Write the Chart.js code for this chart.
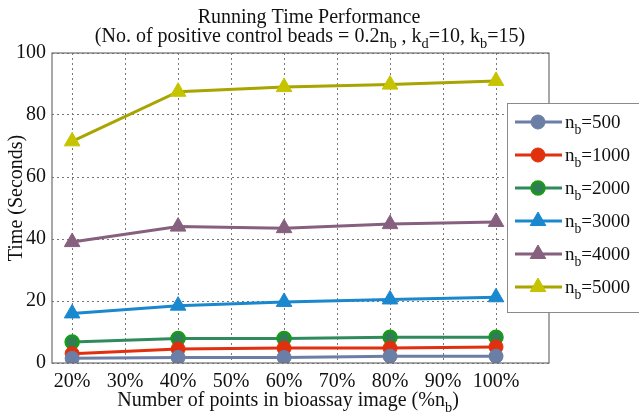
<!DOCTYPE html>
<html>
<head>
<meta charset="utf-8">
<script src="https://cdn.jsdelivr.net/npm/chart.js@4"></script>
<style>
  html, body { margin: 0; padding: 0; background: #fff; }
  #wrap { width: 639px; height: 414px; position: relative; }
</style>
</head>
<body>
<div id="wrap"><canvas id="chart" width="639" height="414"></canvas></div>
<script>
// data
const pointsPct = [20, 40, 60, 80, 100];
const xTicks = [20, 30, 40, 50, 60, 70, 80, 90, 100];
const yTicks = [0, 20, 40, 60, 80, 100];
const seriesNames = ["500", "1000", "2000", "3000", "4000", "5000"];
const nb500 = [1.5, 1.8, 1.8, 2.2, 2.2];
const nb1000 = [3.0, 4.5, 4.8, 4.8, 5.2];
const nb2000 = [6.8, 7.9, 7.9, 8.3, 8.3];
const nb3000 = [16.0, 18.5, 19.7, 20.5, 21.2];
const nb4000 = [39.0, 44.0, 43.5, 44.8, 45.5];
const nb5000 = [71.5, 87.5, 89.0, 89.8, 91.0];

const SERIF = '"Liberation Serif", "DejaVu Serif", serif';
const styles = [
  { line: "#6b7fa6", fill: "#6b7fa6", edge: "#6b7fa6", shape: "circle", r: 7 },
  { line: "#e0300e", fill: "#e0300e", edge: "#e0300e", shape: "circle", r: 7 },
  { line: "#2f8a5c", fill: "#2f7d55", edge: "#1a9a1a", shape: "circle", r: 6.5 },
  { line: "#1a88cf", fill: "#1a88cf", edge: "#1a88cf", shape: "triangle", r: 9 },
  { line: "#86607e", fill: "#86607e", edge: "#86607e", shape: "triangle", r: 9 },
  { line: "#a8a400", fill: "#c6c400", edge: "#c6c400", shape: "triangle", r: 9 }
];
const allSeries = [nb500, nb1000, nb2000, nb3000, nb4000, nb5000];

const datasets = allSeries.map((vals, i) => ({
  label: "nb=" + seriesNames[i],
  data: vals.map((v, j) => ({ x: pointsPct[j], y: v })),
  borderColor: styles[i].line,
  backgroundColor: styles[i].fill,
  pointBorderColor: styles[i].edge,
  pointBackgroundColor: styles[i].fill,
  pointStyle: styles[i].shape,
  pointRadius: styles[i].r,
  pointBorderWidth: i === 2 ? 2.5 : 1,
  borderWidth: 3,
  tension: 0
}));

// draw text made of [text, isSub] pieces
function richWidth(ctx, parts, size) {
  let w = 0;
  parts.forEach(p => {
    ctx.font = (p[1] ? size * 0.72 : size) + "px " + SERIF;
    w += ctx.measureText(p[0]).width;
  });
  return w;
}
function drawRich(ctx, parts, x, y, size, align) {
  let w = richWidth(ctx, parts, size);
  let cx = align === "center" ? x - w / 2 : x;
  ctx.textBaseline = "alphabetic";
  ctx.textAlign = "left";
  parts.forEach(p => {
    let s = p[1] ? size * 0.72 : size;
    ctx.font = s + "px " + SERIF;
    ctx.fillText(p[0], cx, p[1] ? y + size * 0.3 : y);
    cx += ctx.measureText(p[0]).width;
  });
}

const decorations = {
  id: "decorations",
  afterDraw(chart) {
    const ctx = chart.ctx;
    const a = chart.chartArea;
    ctx.save();
    // frame
    ctx.strokeStyle = "#6e6e6e";
    ctx.lineWidth = 1.2;
    ctx.strokeRect(a.left, a.top, a.right - a.left, a.bottom - a.top);

    ctx.fillStyle = "#111";
    drawRich(ctx, [["Running Time Performance", false]], 309, 23, 20, "center");
    drawRich(ctx, [["(No. of positive control beads = 0.2n", false], ["b", true],
      [" , k", false], ["d", true], ["=10, k", false], ["b", true], ["=15)", false]], 310, 42, 20, "center");
    drawRich(ctx, [["Number of points in bioassay image (%n", false], ["b", true], [")", false]], 288, 406, 20, "center");
    ctx.save();
    ctx.translate(22, 198);
    ctx.rotate(-Math.PI / 2);
    drawRich(ctx, [["Time (Seconds)", false]], 0, 0, 20, "center");
    ctx.restore();

    // legend box
    const lx = 507, ly = 103, lw = 140, lh = 210;
    ctx.fillStyle = "#fff";
    ctx.fillRect(lx, ly, lw, lh);
    ctx.strokeStyle = "#8a8a8a";
    ctx.lineWidth = 1;
    ctx.strokeRect(lx + 0.5, ly + 0.5, lw, lh - 1);
    chart.data.datasets.forEach((ds, i) => {
      const yy = 122 + i * 33;
      ctx.strokeStyle = ds.borderColor;
      ctx.lineWidth = 3;
      ctx.beginPath();
      ctx.moveTo(515, yy);
      ctx.lineTo(562, yy);
      ctx.stroke();
      ctx.fillStyle = ds.pointBackgroundColor;
      ctx.strokeStyle = ds.pointBorderColor;
      ctx.lineWidth = ds.pointBorderWidth;
      Chart.helpers.drawPoint(ctx, { pointStyle: ds.pointStyle, radius: ds.pointRadius, borderWidth: ds.pointBorderWidth }, 538, yy);
      ctx.fillStyle = "#111";
      drawRich(ctx, [["n", false], ["b", true], ["=" + seriesNames[i], false]], 565, yy + 6, 19, "left");
    });
    ctx.restore();
  }
};

new Chart(document.getElementById("chart"), {
  type: "line",
  data: { datasets },
  plugins: [decorations],
  options: {
    responsive: false,
    animation: false,
    layout: { padding: { left: 0, top: 53, right: 90, bottom: 0 } },
    plugins: { legend: { display: false }, tooltip: { enabled: false }, title: { display: false } },
    scales: {
      x: {
        type: "linear",
        min: 16.2,
        max: 110,
        afterBuildTicks: s => { s.ticks = xTicks.map(v => ({ value: v })); },
        afterFit: s => { s.height = 51; },
        grid: { color: "#777", lineWidth: 1, drawTicks: false },
        border: { display: false, dash: [2, 3] },
        ticks: { color: "#111", padding: 7, font: { family: SERIF, size: 20 }, callback: v => v + "%", maxRotation: 0 }
      },
      y: {
        min: 0,
        max: 100,
        afterBuildTicks: s => { s.ticks = yTicks.map(v => ({ value: v })); },
        afterFit: s => { s.width = 52; },
        grid: { color: "#777", lineWidth: 1, drawTicks: false },
        border: { display: false, dash: [2, 3] },
        ticks: { color: "#111", padding: 6, font: { family: SERIF, size: 20 } }
      }
    }
  }
});
</script>
</body>
</html>
